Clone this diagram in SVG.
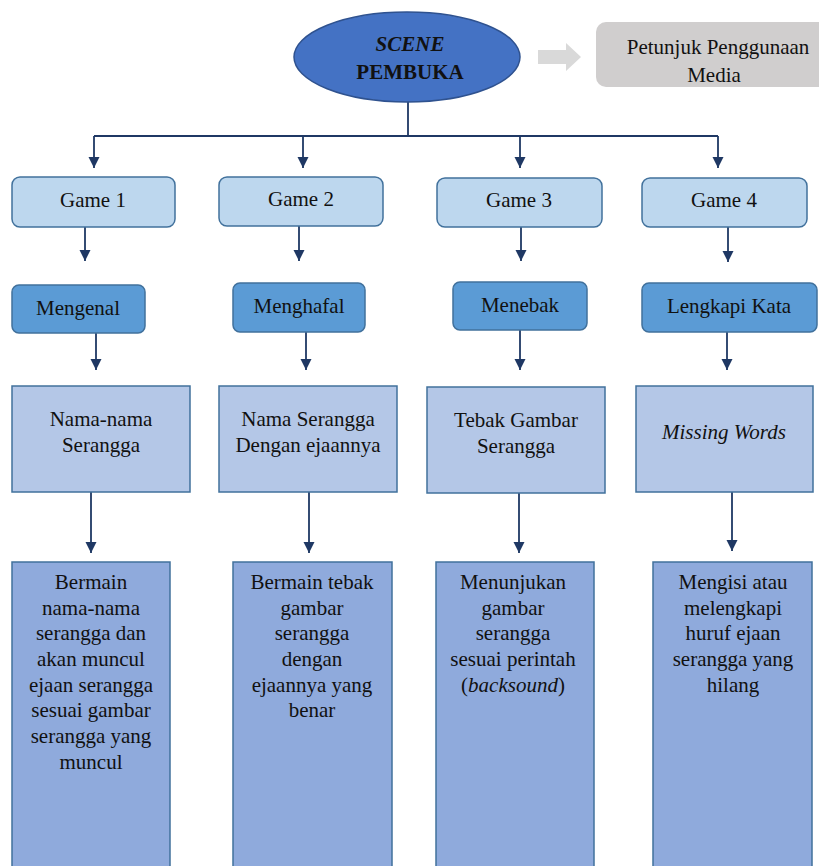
<svg xmlns="http://www.w3.org/2000/svg" width="819" height="866" viewBox="0 0 819 866" font-family="'Liberation Serif', Tinos, 'Times New Roman', 'DejaVu Serif', serif">
<style>
text{font-family:'Liberation Serif',Tinos,'Times New Roman','DejaVu Serif',serif;font-size:21px;fill:#111;text-anchor:middle}
.game{fill:#bdd7ee;stroke:#41719c;stroke-width:1.5}
.act{fill:#5b9bd5;stroke:#41719c;stroke-width:1.5}
.topic{fill:#b4c7e7;stroke:#41719c;stroke-width:1.5}
.desc{fill:#8faadc;stroke:#41719c;stroke-width:1.5}
.conn{fill:none;stroke:#1f3864;stroke-width:1.8}
.it{font-style:italic}
</style>
<defs>
<marker id="ah" markerUnits="userSpaceOnUse" markerWidth="12" markerHeight="12" viewBox="0 0 12 12" refX="11" refY="6" orient="auto">
<path d="M0,0.5 L11,6 L0,11.5 Z" fill="#1f3864"/>
</marker>
</defs>
<rect width="819" height="866" fill="#ffffff"/>
<g id="connectors">
<path class="conn" d="M408,102 V136 M94,136 H718"/>
<path class="conn" d="M94,136 V168" marker-end="url(#ah)"/>
<path class="conn" d="M303,136 V168" marker-end="url(#ah)"/>
<path class="conn" d="M520,136 V168" marker-end="url(#ah)"/>
<path class="conn" d="M718,136 V168" marker-end="url(#ah)"/>
<path class="conn" d="M85,227 V261" marker-end="url(#ah)"/>
<path class="conn" d="M299,226 V261" marker-end="url(#ah)"/>
<path class="conn" d="M521,227 V261" marker-end="url(#ah)"/>
<path class="conn" d="M728,227 V262" marker-end="url(#ah)"/>
<path class="conn" d="M96,333 V370" marker-end="url(#ah)"/>
<path class="conn" d="M306,332 V370" marker-end="url(#ah)"/>
<path class="conn" d="M520,330 V370" marker-end="url(#ah)"/>
<path class="conn" d="M727,332 V370" marker-end="url(#ah)"/>
<path class="conn" d="M91,492 V553" marker-end="url(#ah)"/>
<path class="conn" d="M309,492 V553" marker-end="url(#ah)"/>
<path class="conn" d="M519,493 V553" marker-end="url(#ah)"/>
<path class="conn" d="M732,492 V551" marker-end="url(#ah)"/>
<polygon points="538,50 566,50 566,43 581,57 566,71 566,64 538,64" fill="#d9d9d9"/>
</g>
<g id="scene">
<ellipse cx="407" cy="57" rx="113" ry="45" fill="#4472c4" stroke="#2f528f" stroke-width="1.5"/>
<text x="410" y="51" font-size="19" font-weight="bold" font-style="italic">SCENE</text>
<text x="410" y="79" font-size="19" font-weight="bold">PEMBUKA</text>
</g>
<g id="petunjuk">
<rect x="596" y="22" width="250" height="65" rx="10" fill="#d0cece"/>
<text x="718" y="54">Petunjuk Penggunaan</text>
<text x="714" y="82">Media</text>
</g>
<g id="game1"><rect class="game" x="12" y="177" width="163" height="50" rx="8"/><text x="93" y="207">Game 1</text></g>
<g id="game2"><rect class="game" x="219" y="177" width="164" height="49" rx="8"/><text x="301" y="206">Game 2</text></g>
<g id="game3"><rect class="game" x="437" y="178" width="165" height="49" rx="8"/><text x="519" y="207">Game 3</text></g>
<g id="game4"><rect class="game" x="642" y="178" width="165" height="49" rx="8"/><text x="724" y="207">Game 4</text></g>
<g id="mengenal"><rect class="act" x="12" y="285" width="133" height="48" rx="7"/><text x="78" y="315">Mengenal</text></g>
<g id="menghafal"><rect class="act" x="233" y="283" width="132" height="49" rx="7"/><text x="299" y="313">Menghafal</text></g>
<g id="menebak"><rect class="act" x="453" y="282" width="134" height="48" rx="7"/><text x="520" y="312">Menebak</text></g>
<g id="lengkapi"><rect class="act" x="642" y="283" width="175" height="49" rx="7"/><text x="729" y="313">Lengkapi Kata</text></g>
<g id="topic1"><rect class="topic" x="12" y="386" width="178" height="106"/><text x="101" y="426">Nama-nama</text><text x="101" y="452">Serangga</text></g>
<g id="topic2"><rect class="topic" x="219" y="386" width="178" height="106"/><text x="308" y="426">Nama Serangga</text><text x="308" y="452">Dengan ejaannya</text></g>
<g id="topic3"><rect class="topic" x="427" y="387" width="178" height="106"/><text x="516" y="427">Tebak Gambar</text><text x="516" y="453">Serangga</text></g>
<g id="topic4"><rect class="topic" x="636" y="386" width="177" height="106"/><text class="it" x="724" y="439">Missing Words</text></g>
<g id="desc1"><rect class="desc" x="12" y="562" width="158" height="310"/>
<text x="91" y="589">Bermain</text><text x="91" y="615">nama-nama</text><text x="91" y="640">serangga dan</text><text x="91" y="666">akan muncul</text><text x="91" y="692">ejaan serangga</text><text x="91" y="717">sesuai gambar</text><text x="91" y="743">serangga yang</text><text x="91" y="769">muncul</text></g>
<g id="desc2"><rect class="desc" x="233" y="562" width="159" height="310"/>
<text x="312" y="589">Bermain tebak</text><text x="312" y="615">gambar</text><text x="312" y="640">serangga</text><text x="312" y="666">dengan</text><text x="312" y="692">ejaannya yang</text><text x="312" y="717">benar</text></g>
<g id="desc3"><rect class="desc" x="436" y="562" width="158" height="310"/>
<text x="513" y="589">Menunjukan</text><text x="513" y="615">gambar</text><text x="513" y="640">serangga</text><text x="513" y="666">sesuai perintah</text><text x="513" y="692">(<tspan class="it">backsound</tspan>)</text></g>
<g id="desc4"><rect class="desc" x="653" y="562" width="159" height="310"/>
<text x="733" y="589">Mengisi atau</text><text x="733" y="615">melengkapi</text><text x="733" y="640">huruf ejaan</text><text x="733" y="666">serangga yang</text><text x="733" y="692">hilang</text></g>
</svg>
